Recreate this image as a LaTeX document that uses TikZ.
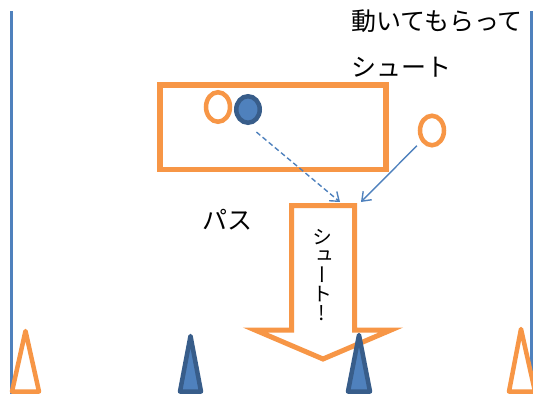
\documentclass[tikz,border=0pt]{standalone}
\usepackage{fontspec}
\usetikzlibrary{positioning,shapes.geometric,arrows.meta}
\newfontfamily\jpfont{Noto Sans CJK JP}
\newfontfamily\jpvert[RawFeature=+vert]{Noto Sans CJK JP}
\definecolor{Orange}{HTML}{F79646}
\definecolor{Blue}{HTML}{4F81BD}
\definecolor{DarkBlue}{HTML}{385D8A}

\begin{document}
\begin{tikzpicture}[x=1pt,y=-1pt,
    lbl/.style={font=\jpfont\fontsize{25}{30}\selectfont,inner sep=0pt,anchor=west},
    wall/.style={Blue,line width=2.8pt},
    frame/.style={draw=Orange,line width=5.5pt,inner sep=0pt},
    ring/.style={ellipse,draw=Orange,line width=4.5pt,minimum width=24pt,minimum height=29.5pt,inner sep=0pt},
    ball/.style={ellipse,draw=DarkBlue,fill=Blue,line width=4.5pt,minimum width=23.5pt,minimum height=26.5pt,inner sep=0pt},
    arr/.style={-{Straight Barb[length=8pt,width=12pt]},Blue,line width=1.4pt},
    cone/.style={line width=4.5pt,line join=round}
  ]
    \useasboundingbox (0,0) rectangle (533,394);
    \draw[wall] (11.5,11) -- (11.5,394);
    \draw[wall] (531.7,11) -- (531.7,394);
    % texts
    \node[lbl] (move) at (351,21.5) {動いてもらって};
    \node[lbl] (shoot) at (351,67.5) {シュート};
    \node[lbl] (pass) at (202,220) {パス};
    % zone and players
    \node[frame,minimum width=226pt,minimum height=84.5pt] (zone) at (273,127.3) {};
    \node[ring] (me) at (218,107) {};
    \node[ball] (mate) at (248,109.5) {};
    \node[ring] (runner) at (432,130.5) {};
    % big arrow
    \draw[Orange,line width=5pt,line join=miter,fill=white]
      (291.5,205.5) -- (354.5,205.5) -- (354.5,330) -- (391,330) -- (323,359)
      -- (255,330) -- (291.5,330) -- cycle;
    \node[font=\jpvert\fontsize{20}{19}\selectfont,align=center,inner sep=0pt] (goal) at (322,275)
      {シ\\ュ\\ー\\ト\\!};
    \coordinate (d1) at (340,202);
    \coordinate (s1) at (361,202);
    \draw[arr,dash pattern=on 5pt off 3pt,shorten <=11pt] (mate.south) -- (d1);
    \draw[arr,shorten <=6pt] (runner) -- (s1);
    % cones
    \draw[cone,draw=Orange,fill=white] (12,391.5) -- (25.5,331) -- (39,391.5) -- cycle;
    \draw[cone,draw=DarkBlue,fill=Blue] (180,391.5) -- (190.5,336) -- (201,391.5) -- cycle;
    \draw[cone,draw=DarkBlue,fill=Blue] (348,391.5) -- (359,335) -- (370,391.5) -- cycle;
    \draw[cone,draw=Orange,fill=white] (509,391.5) -- (521,329) -- (535,391.5) -- cycle;
  \end{tikzpicture}
\end{document}
